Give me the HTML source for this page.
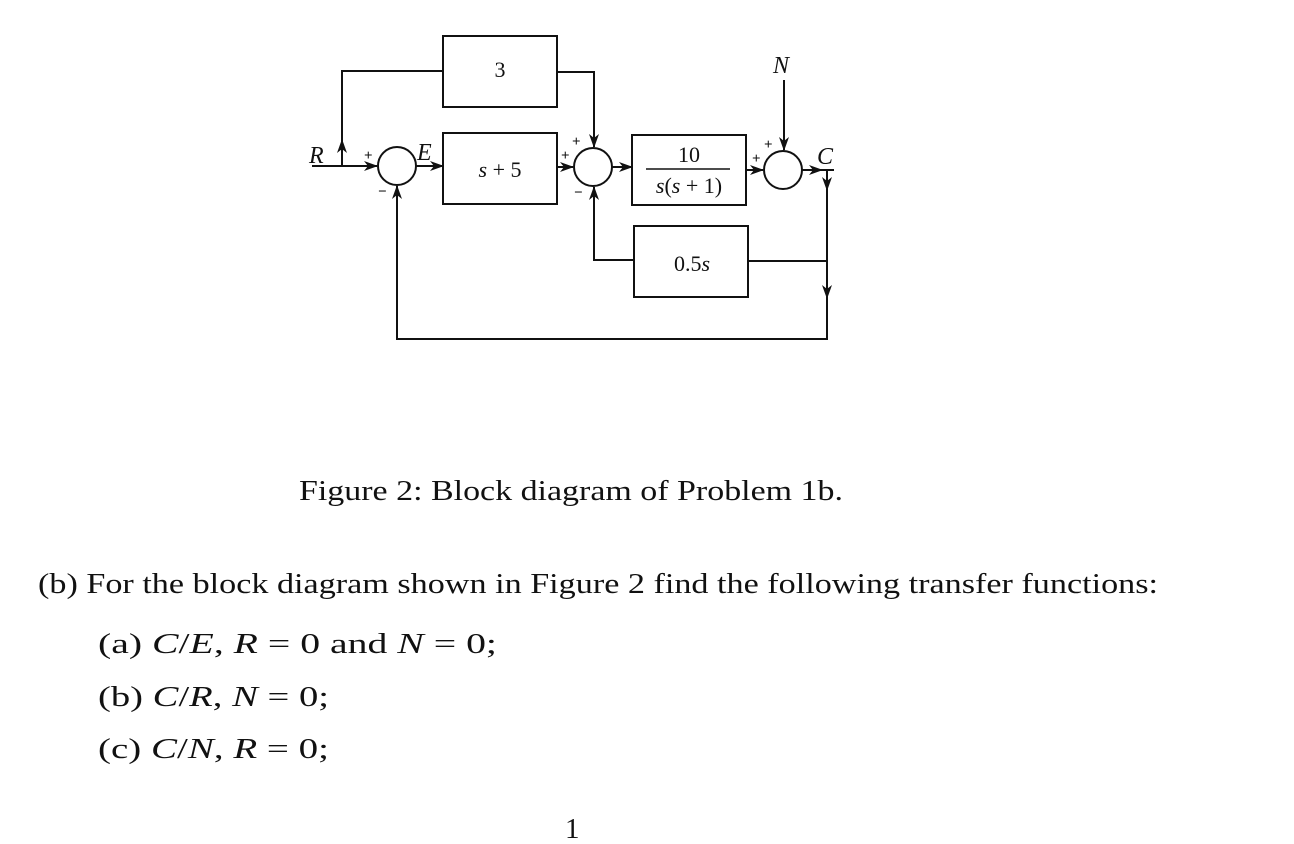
<!DOCTYPE html>
<html><head><meta charset="utf-8"><style>
html,body{margin:0;padding:0;background:#fff;}
svg{display:block;}
text{font-family:"Liberation Serif",serif;fill:#111;}
</style></head><body>
<svg width="1294" height="844" viewBox="0 0 1294 844" xmlns="http://www.w3.org/2000/svg">
<defs>
<marker id="a" markerWidth="14" markerHeight="10" refX="13" refY="5" orient="auto" markerUnits="userSpaceOnUse">
<path d="M0,0 L14,5 L0,10 L4,5 Z" fill="#111"/>
</marker>
</defs>
<g stroke="#111" stroke-width="2" fill="none">
<rect x="443" y="36" width="114" height="71"/>
<rect x="443" y="133" width="114" height="71"/>
<rect x="632" y="135" width="114" height="70"/>
<rect x="634" y="226" width="114" height="71"/>
<circle cx="397" cy="166" r="19"/>
<circle cx="593" cy="167" r="19"/>
<circle cx="783" cy="170" r="19"/>
<line x1="312" y1="166" x2="377" y2="166" marker-end="url(#a)"/>
<polyline points="342,166 342,140" marker-end="url(#a)"/>
<polyline points="342,143 342,71 443,71"/>
<line x1="416" y1="166" x2="443" y2="166" marker-end="url(#a)"/>
<line x1="557" y1="167" x2="573" y2="167" marker-end="url(#a)"/>
<polyline points="557,72 594,72 594,147" marker-end="url(#a)"/>
<line x1="612" y1="167" x2="632" y2="167" marker-end="url(#a)"/>
<line x1="746" y1="170" x2="763" y2="170" marker-end="url(#a)"/>
<line x1="784" y1="80" x2="784" y2="150" marker-end="url(#a)"/>
<line x1="802" y1="170" x2="822" y2="170" marker-end="url(#a)"/>
<line x1="820" y1="170" x2="834" y2="170"/>
<line x1="827" y1="170" x2="827" y2="190" marker-end="url(#a)"/>
<line x1="827" y1="185" x2="827" y2="298" marker-end="url(#a)"/>
<polyline points="827,295 827,339 397,339 397,186" marker-end="url(#a)"/>
<polyline points="827,261 748,261"/>
<polyline points="634,260 594,260 594,187" marker-end="url(#a)"/>
</g>
<text x="500" y="77" text-anchor="middle" font-size="22">3</text>
<text x="500" y="177" text-anchor="middle" font-size="22"><tspan font-style="italic">s</tspan> + 5</text>
<text x="689" y="162" text-anchor="middle" font-size="22">10</text>
<line x1="646" y1="169" x2="730" y2="169" stroke="#111" stroke-width="1.5"/>
<text x="689" y="193" text-anchor="middle" font-size="22"><tspan font-style="italic">s</tspan>(<tspan font-style="italic">s</tspan> + 1)</text>
<text x="692" y="271" text-anchor="middle" font-size="22">0.5<tspan font-style="italic">s</tspan></text>
<text x="309" y="163" font-style="italic" font-size="24">R</text>
<text x="417" y="160" font-style="italic" font-size="24">E</text>
<text x="773" y="73" font-style="italic" font-size="24">N</text>
<text x="817" y="164" font-style="italic" font-size="24">C</text>
<g font-size="15" font-weight="bold" style="font-family:'Liberation Sans',sans-serif">
<text x="364" y="160">+</text>
<text x="378" y="196">−</text>
<text x="561" y="160">+</text>
<text x="572" y="146">+</text>
<text x="574" y="197">−</text>
<text x="752" y="163">+</text>
<text x="764" y="149">+</text>
</g>
<g font-size="29">
<text x="299" y="500" textLength="544" lengthAdjust="spacingAndGlyphs">Figure 2: Block diagram of Problem 1b.</text>
<text x="38" y="593" textLength="1120" lengthAdjust="spacingAndGlyphs">(b) For the block diagram shown in Figure 2 find the following transfer functions:</text>
<text x="98" y="653" textLength="399" lengthAdjust="spacingAndGlyphs">(a) <tspan font-style="italic">C</tspan>/<tspan font-style="italic">E</tspan>, <tspan font-style="italic">R</tspan> = 0 and <tspan font-style="italic">N</tspan> = 0;</text>
<text x="98" y="706" textLength="231" lengthAdjust="spacingAndGlyphs">(b) <tspan font-style="italic">C</tspan>/<tspan font-style="italic">R</tspan>, <tspan font-style="italic">N</tspan> = 0;</text>
<text x="98" y="758" textLength="231" lengthAdjust="spacingAndGlyphs">(c) <tspan font-style="italic">C</tspan>/<tspan font-style="italic">N</tspan>, <tspan font-style="italic">R</tspan> = 0;</text>
<text x="565" y="838">1</text>
</g>
</svg>
</body></html>
